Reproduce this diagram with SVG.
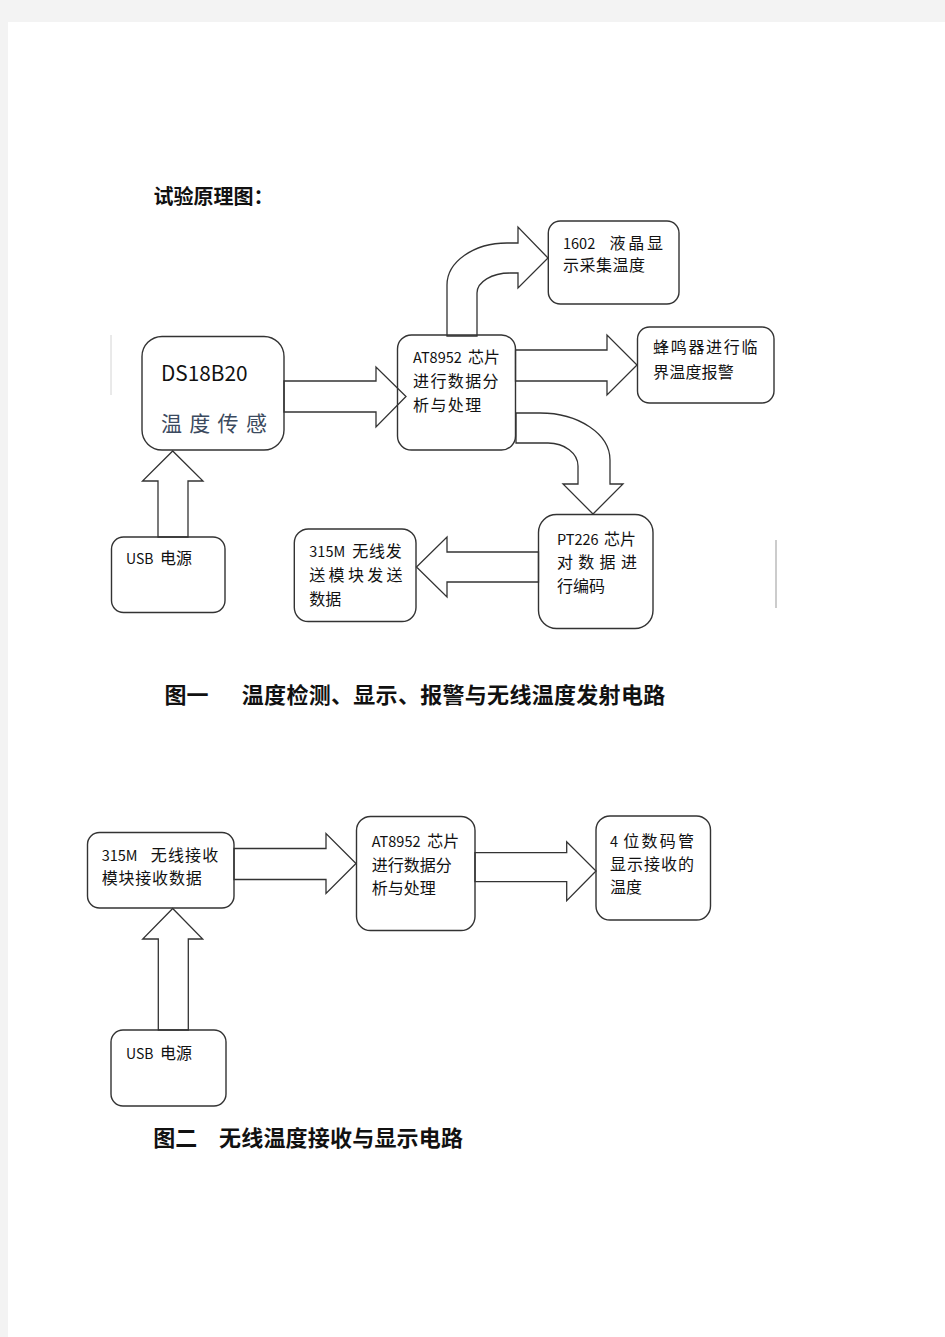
<svg xmlns="http://www.w3.org/2000/svg" width="945" height="1337" viewBox="0 0 945 1337">
<style>
.box{fill:none;stroke:#333;stroke-width:1.4}
.arr{fill:#fff;stroke:#333;stroke-width:1.3;stroke-linejoin:miter}
.t{font-family:"Noto Sans CJK SC","Liberation Sans",sans-serif;font-size:16px;fill:#111}
.l{font-size:14.5px}
.cap{font-family:"Noto Sans CJK SC","Liberation Serif",serif;font-weight:bold;fill:#111}
</style>
<rect x="0" y="0" width="945" height="1337" fill="#f3f3f3"/>
<rect x="8" y="22" width="937" height="1315" fill="#fff"/>
<line x1="111" y1="335" x2="111" y2="395" stroke="#d4d4d4" stroke-width="1"/>
<line x1="776" y1="540" x2="776" y2="608" stroke="#999" stroke-width="1"/>
<text class="cap" x="153.5" y="204" font-size="20">试验原理图：</text>
<g id="connectors">
<path class="arr" d="M284 381 L376 381 L376 367 L406 396.5 L376 427 L376 412 L284 412 Z"/>
<path class="arr" d="M515.5 350 L607 350 L607 335 L637 365 L607 395 L607 381 L515.5 381 Z"/>
<path class="arr" d="M447 336 L447 285 A60 42 0 0 1 507 243 L518 243 L518 227 L548 258 L518 288 L518 273 L510 273 A33 20 0 0 0 477 293 L477 336 Z"/>
<path class="arr" d="M516 413 L540 413 A70 47 0 0 1 610 460 L610 484 L623 484 L593 514 L563 484 L578 484 L578 466 A30 23 0 0 0 548 443 L516 443 Z"/>
<path class="arr" d="M538.5 552 L447 552 L447 537 L416.5 567 L447 597 L447 582 L538.5 582 Z"/>
<path class="arr" d="M158 537 L158 481 L142.5 481 L172.7 451 L203 481 L188 481 L188 537 Z"/>
<path class="arr" d="M234 848.5 L326 848.5 L326 833.5 L356 863.5 L326 893.5 L326 879.5 L234 879.5 Z"/>
<path class="arr" d="M475 852.7 L566.7 852.7 L566.7 841.7 L596 871 L566.7 900.7 L566.7 881.7 L475 881.7 Z"/>
<path class="arr" d="M158.3 1030 L158.3 939 L142.7 939 L172.7 908.5 L202.7 939 L188.3 939 L188.3 1030 Z"/>
</g>
<g id="n1602">
<rect class="box" x="548.3" y="221" width="130.7" height="83" rx="12"/>
<text class="t" y="249"><tspan class="l" x="563">1602</tspan><tspan x="609.6" letter-spacing="2.7">液晶显</tspan></text>
<text class="t" x="563" y="271" letter-spacing="0.5">示采集温度</text>
</g>
<g id="buzzer">
<rect class="box" x="637.5" y="327" width="136.5" height="76" rx="12"/>
<text class="t" x="653" y="353" letter-spacing="1.7">蜂鸣器进行临</text>
<text class="t" x="653" y="378" letter-spacing="0.2">界温度报警</text>
</g>
<g id="ds18b20">
<rect class="box" x="142" y="336.5" width="142" height="113.5" rx="20"/>
<text x="161" y="381" font-family="Noto Sans CJK SC, Liberation Sans, sans-serif" font-size="20.8" fill="#111">DS18B20</text>
<text x="161" y="430.5" font-family="Noto Sans CJK SC, sans-serif" font-size="21" letter-spacing="7.3" fill="#3b4a5e">温度传感</text>
</g>
<g id="at8952a">
<rect class="box" x="397.5" y="335" width="118" height="115" rx="14"/>
<text class="t" y="363"><tspan class="l" x="413">AT8952</tspan><tspan x="468">芯片</tspan></text>
<text class="t" x="413" y="387" letter-spacing="1.4">进行数据分</text>
<text class="t" x="413" y="411" letter-spacing="1.4">析与处理</text>
</g>
<g id="pt226">
<rect class="box" x="538.5" y="514.5" width="114.5" height="114" rx="18"/>
<text class="t" y="545"><tspan class="l" x="557">PT226</tspan><tspan x="604">芯片</tspan></text>
<text class="t" x="557" y="568" letter-spacing="5.3">对数据进</text>
<text class="t" x="557" y="592">行编码</text>
</g>
<g id="tx315">
<rect class="box" x="294.3" y="529" width="121.7" height="92.5" rx="14"/>
<text class="t" y="557"><tspan class="l" x="309.3">315M</tspan><tspan x="352.3" letter-spacing="0.7">无线发</tspan></text>
<text class="t" x="309.3" y="581" letter-spacing="3.3">送模块发送</text>
<text class="t" x="309.3" y="605">数据</text>
</g>
<g id="usb1">
<rect class="box" x="111.5" y="537" width="113.5" height="75.5" rx="12"/>
<text class="t" y="564" font-size="15"><tspan x="126" font-size="14">USB</tspan><tspan x="160">电源</tspan></text>
</g>
<text class="cap" y="703" font-size="22"><tspan x="164.5">图一</tspan><tspan x="241.8" letter-spacing="0.3">温度检测、显示、报警与无线温度发射电路</tspan></text>
<g id="rx315">
<rect class="box" x="87.5" y="832.5" width="146.5" height="75.5" rx="12"/>
<text class="t" y="860.5"><tspan class="l" x="101.7">315M</tspan><tspan x="150.7" letter-spacing="1.2">无线接收</tspan></text>
<text class="t" x="101.7" y="884" letter-spacing="0.8">模块接收数据</text>
</g>
<g id="at8952b">
<rect class="box" x="356.5" y="816.5" width="118.5" height="114" rx="14"/>
<text class="t" y="847"><tspan class="l" x="371.7">AT8952</tspan><tspan x="427.3">芯片</tspan></text>
<text class="t" x="371.7" y="871">进行数据分</text>
<text class="t" x="371.7" y="894">析与处理</text>
</g>
<g id="seg4">
<rect class="box" x="596" y="816" width="114.5" height="104" rx="14"/>
<text class="t" y="847"><tspan class="l" x="610">4</tspan><tspan x="623.3" letter-spacing="2.2">位数码管</tspan></text>
<text class="t" x="610" y="870" letter-spacing="1">显示接收的</text>
<text class="t" x="610" y="893">温度</text>
</g>
<g id="usb2">
<rect class="box" x="111" y="1030" width="115" height="76" rx="12"/>
<text class="t" y="1059" font-size="15"><tspan x="126" font-size="14">USB</tspan><tspan x="160">电源</tspan></text>
</g>
<text class="cap" y="1146" font-size="22"><tspan x="153.3">图二</tspan><tspan x="219" letter-spacing="0.2">无线温度接收与显示电路</tspan></text>
</svg>
